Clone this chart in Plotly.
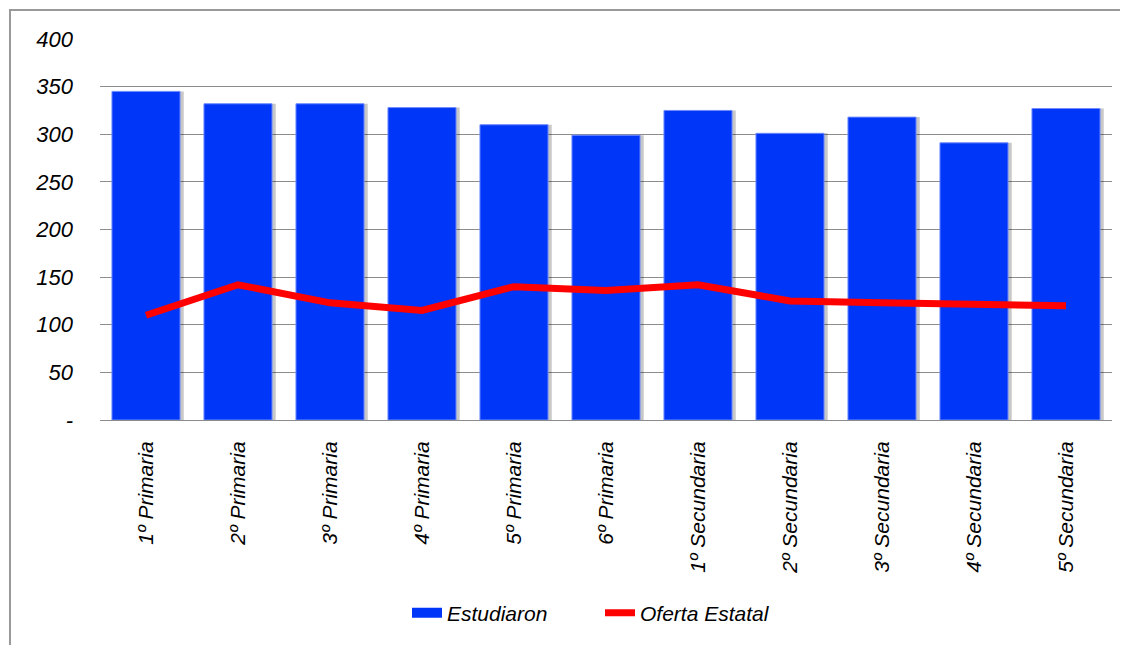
import plotly.graph_objects as go

categories = ["1º Primaria", "2º Primaria", "3º Primaria", "4º Primaria", "5º Primaria",
              "6º Primaria", "1º Secundaria", "2º Secundaria", "3º Secundaria",
              "4º Secundaria", "5º Secundaria"]
estudiaron = [345, 332, 332, 328, 310, 299, 325, 301, 318, 291, 327]
oferta_estatal = [110, 142, 123, 115, 140, 136, 142, 125, 123, 121, 120]
y_tickvals = [0, 50, 100, 150, 200, 250, 300, 350, 400]
y_ticktext = ["-", "50", "100", "150", "200", "250", "300", "350", "400"]

# page has an 8px body margin, so the figure is drawn 8px smaller and offset
OFF = 8
W, H = 1128 - OFF, 645 - OFF
L, R, T, B = 100 - OFF, 16, 39 - OFF, 225
pw, ph = W - L - R, H - T - B

def px_x(x):
    return (x - OFF - L) / pw

def px_y(y):
    return (H - B - (y - OFF)) / ph

font_family = "Liberation Sans, Arial, sans-serif"
blue = "#0036F7"

fig = go.Figure()
# soft shadow behind bars
fig.add_trace(go.Bar(x=categories, y=estudiaron, width=0.74, offset=-0.33,
                     marker=dict(color="rgba(0,0,0,0.22)", line=dict(width=0)),
                     showlegend=False, hoverinfo="skip"))
fig.add_trace(go.Bar(x=categories, y=estudiaron, name="Estudiaron", width=0.74, offset=-0.37,
                     marker=dict(color=blue, line=dict(color="#6f8cff", width=1)),
                     showlegend=False))
# legend swatch for the bars (wide rectangle like the reference)
fig.add_trace(go.Scatter(x=[None], y=[None], name="Estudiaron", mode="lines",
                         line=dict(color=blue, width=14)))
fig.add_trace(go.Scatter(x=categories, y=oferta_estatal, name="Oferta Estatal", mode="lines",
                         line=dict(color="#FF0000", width=7, shape="linear")))

fig.update_layout(
    width=W, height=H,
    margin=dict(l=L, r=R, t=T, b=B),
    paper_bgcolor="white", plot_bgcolor="white",
    barmode="overlay",
    font=dict(family=font_family, color="black"),
    showlegend=True,
    legend=dict(orientation="h", x=px_x(600), xanchor="center",
                y=px_y(613), yanchor="middle",
                font=dict(family=font_family, size=21, style="italic"),
                entrywidth=148, entrywidthmode="pixels",
                traceorder="normal"),
    shapes=[dict(type="rect", xref="paper", yref="paper",
                 x0=px_x(10), x1=px_x(1145), y0=px_y(665), y1=px_y(10),
                 line=dict(color="#999999", width=2), layer="below")],
)
fig.update_yaxes(range=[0, 400], tickvals=y_tickvals, ticktext=y_ticktext,
                 showgrid=True, gridcolor="#8c8c8c", gridwidth=1,
                 zeroline=False, showline=False,
                 tickfont=dict(family=font_family, size=22, style="italic"),
                 ticklabelstandoff=26, ticks="")
fig.update_xaxes(tickangle=-90, showline=True, linecolor="#8c8c8c", linewidth=1,
                 tickfont=dict(family=font_family, size=21, style="italic"),
                 ticklabelstandoff=12, ticks="", range=[-0.5, 10.5])

fig.write_html("out.html")
